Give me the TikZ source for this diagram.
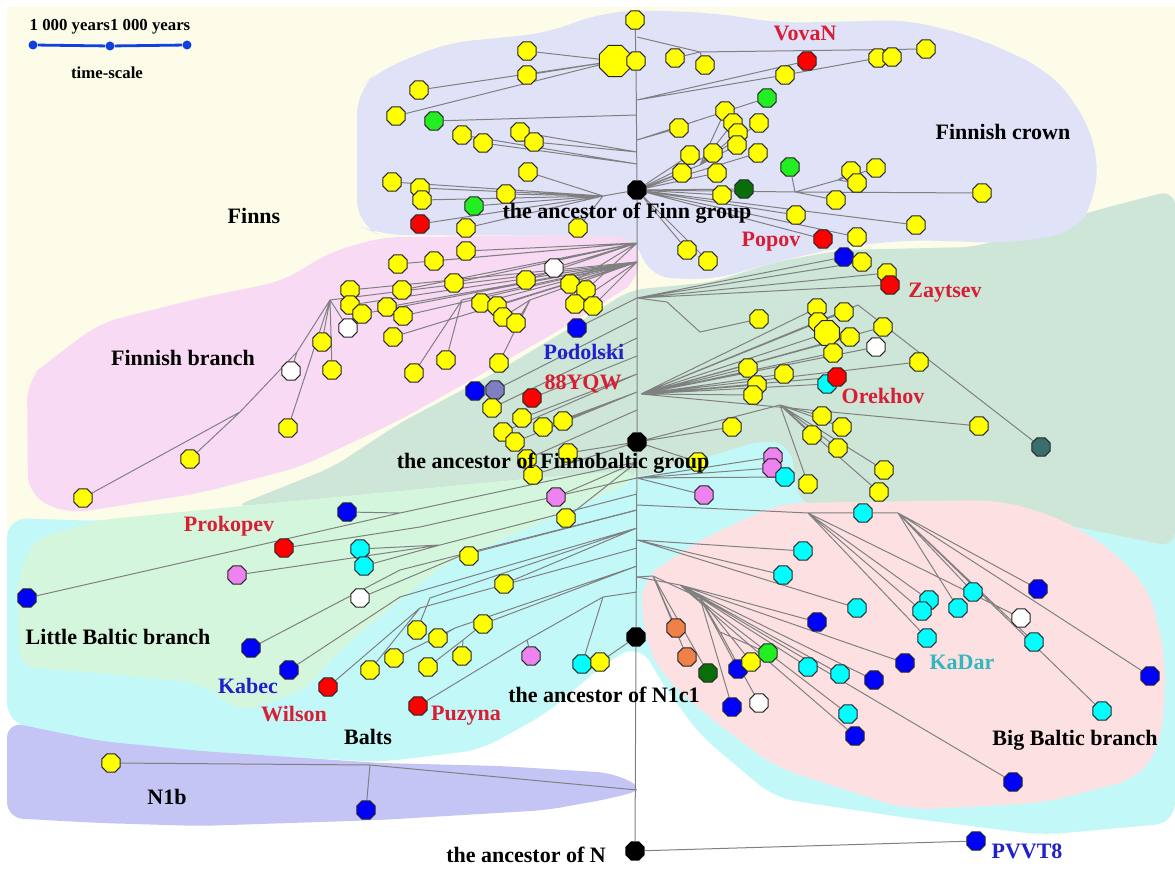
\documentclass[tikz,border=0pt]{standalone}
\usepackage{fontspec}
\setmainfont{Liberation Serif}
\usetikzlibrary{shapes.geometric,backgrounds}
\definecolor{hy}{HTML}{FFFF00}
\definecolor{hr}{HTML}{FF0000}
\definecolor{hb}{HTML}{0000FF}
\definecolor{hc}{HTML}{00FFFF}
\definecolor{hv}{HTML}{EE82EE}
\definecolor{hg}{HTML}{22EE22}
\definecolor{hdg}{HTML}{0A6E0A}
\definecolor{ho}{HTML}{F08048}
\definecolor{hs}{HTML}{7E7EC0}
\definecolor{hds}{HTML}{3A6E6E}
\definecolor{bgyellow}{HTML}{FCFCE8}
\definecolor{bglav}{HTML}{E0E2F8}
\definecolor{bgpinkf}{HTML}{F9DAF5}
\definecolor{bggreen}{HTML}{CDE6D8}
\definecolor{bglgreen}{HTML}{D4F6DC}
\definecolor{bgcyan}{HTML}{C3F8F8}
\definecolor{bgpinkb}{HTML}{FCE0E2}
\definecolor{bgpurple}{HTML}{C4C4F5}
\definecolor{txred}{HTML}{D81E34}
\definecolor{txblue}{HTML}{2020CC}
\definecolor{txcyan}{HTML}{30B8C0}
\definecolor{linkgray}{HTML}{808080}
\definecolor{scaleblue}{HTML}{1040E0}
\tikzset{
  hap/.style    ={regular polygon, regular polygon sides=8, draw=black!85,
                  line width=0.5pt, minimum size=10pt, inner sep=0pt, fill=#1},
  hapbig/.style ={hap=#1, minimum size=17pt},
  anc/.style    ={regular polygon, regular polygon sides=8, fill=black,
                  minimum size=10.5pt, inner sep=0pt},
  link/.style   ={draw=linkgray, line width=0.5pt},
  grp/.style    ={font=\fontsize{11}{12}\selectfont\bfseries, inner sep=0pt},
  sdot/.style   ={circle, fill=scaleblue, minimum size=4.5pt, inner sep=0pt},
  scaleline/.style={draw=scaleblue, line width=1.4pt},
  stxt/.style   ={font=\fontsize{8.4}{9}\selectfont\bfseries, inner sep=0pt}
}
\begin{document}
\begin{tikzpicture}[x=0.5pt,y=-0.5pt]
\useasboundingbox (0,0) rectangle (1175,871);

%% ancestors on the trunk
\node[anc] (aFinn) at (637,190) {};
\node[anc] (aFB)   at (637,442) {};
\node[anc] (aN1)   at (636,637) {};
\node[anc] (aN)    at (635,851) {};

%% Finnish crown
\node[hap=hy] (c1) at (635,20) {};
\node[hapbig=hy] (c2) at (615,61) {};
\node[hap=hy] (c3) at (636,61) {};
\node[hap=hy] (c4) at (675,58) {};
\node[hap=hy] (c5) at (705,65) {};
\node[hap=hy] (c6) at (527,51) {};
\node[hap=hy] (c7) at (527,75) {};
\node[hap=hy] (c8) at (419,90) {};
\node[hap=hy] (c9) at (396,116) {};
\node[hap=hg] (c10) at (434,121) {};
\node[hap=hy] (c11) at (462,135) {};
\node[hap=hy] (c12) at (483,143) {};
\node[hap=hy] (c13) at (520,132) {};
\node[hap=hy] (c14) at (534,142) {};
\node[hap=hy] (c15) at (392,182) {};
\node[hap=hy] (c16) at (420,188) {};
\node[hap=hy] (c17) at (422,200) {};
\node[hap=hg] (c18) at (474,206) {};
\node[hap=hr] (c19) at (420,224) {};
\node[hap=hy] (c20) at (466,228) {};
\node[hap=hy] (c21) at (506,194) {};
\node[hap=hy] (c22) at (528,172) {};
\node[hap=hy] (c23) at (578,228) {};
\node[hap=hy] (c24) at (679,128) {};
\node[hap=hy] (c25) at (690,155) {};
\node[hap=hy] (c26) at (713,153) {};
\node[hap=hy] (c27) at (682,173) {};
\node[hap=hy] (c28) at (717,173) {};
\node[hap=hy] (c29) at (722,195) {};
\node[hap=hdg] (c30) at (744,189) {};
\node[hap=hy] (c31) at (725,111) {};
\node[hap=hy] (c32) at (733,123) {};
\node[hap=hy] (c33) at (738,133) {};
\node[hap=hy] (c34) at (737,145) {};
\node[hap=hy] (c35) at (759,123) {};
\node[hap=hy] (c36) at (758,153) {};
\node[hap=hg] (c37) at (767,98) {};
\node[hap=hr] (vovan) at (807,61) {};
\node[hap=hy] (c38) at (785,75) {};
\node[hap=hy] (c39) at (878,58) {};
\node[hap=hy] (c40) at (892,57) {};
\node[hap=hy] (c41) at (926,49) {};
\node[hap=hg] (c42) at (790,167) {};
\node[hap=hy] (c43) at (851,171) {};
\node[hap=hy] (c44) at (857,183) {};
\node[hap=hy] (c45) at (876,168) {};
\node[hap=hy] (c46) at (836,200) {};
\node[hap=hy] (c47) at (982,193) {};
\node[hap=hy] (c48) at (796,215) {};
\node[hap=hr] (popov) at (823,239) {};
\node[hap=hy] (c49) at (857,237) {};
\node[hap=hy] (c50) at (916,225) {};
\node[hap=hy] (c51) at (687,250) {};
\node[hap=hy] (c52) at (708,261) {};

%% Finnish branch
\node[hap=hy] (f1) at (466,251) {};
\node[hap=hy] (f2) at (398,264) {};
\node[hap=hy] (f3) at (434,261) {};
\node[hap=hy] (f4) at (454,283) {};
\node[hap=hy] (f5) at (402,290) {};
\node[hap=hy] (f6) at (526,280) {};
\node[hap=white] (f7) at (554,268) {};
\node[hap=hy] (f8) at (570,284) {};
\node[hap=hy] (f9) at (586,290) {};
\node[hap=hy] (f10) at (387,307) {};
\node[hap=hy] (f11) at (403,316) {};
\node[hap=hy] (f12) at (481,303) {};
\node[hap=hy] (f13) at (497,306) {};
\node[hap=hy] (f14) at (503,317) {};
\node[hap=hy] (f15) at (516,323) {};
\node[hap=hy] (f16) at (575,304) {};
\node[hap=hy] (f17) at (593,306) {};
\node[hap=hy] (f18) at (393,337) {};
\node[hap=hy] (f19) at (446,360) {};
\node[hap=hy] (f20) at (414,373) {};
\node[hap=hy] (f21) at (499,363) {};
\node[hap=hy] (f22) at (350,290) {};
\node[hap=hy] (f23) at (350,305) {};
\node[hap=hy] (f24) at (362,314) {};
\node[hap=white] (f25) at (348,328) {};
\node[hap=hy] (f26) at (322,342) {};
\node[hap=hy] (f27) at (332,370) {};
\node[hap=white] (f28) at (291,371) {};
\node[hap=hy] (f29) at (288,428) {};
\node[hap=hy] (f30) at (190,459) {};
\node[hap=hy] (f31) at (83,498) {};

%% Finnobaltic group
\node[hap=hb] (podolski) at (577,328) {};
\node[hap=hb] (g1) at (475,391) {};
\node[hap=hs] (g2) at (495,390) {};
\node[hap=hy] (g3) at (492,408) {};
\node[hap=hr] (yqw) at (532,398) {};
\node[hap=hy] (g4) at (522,418) {};
\node[hap=hy] (g5) at (543,427) {};
\node[hap=hy] (g6) at (563,421) {};
\node[hap=hy] (g7) at (503,432) {};
\node[hap=hy] (g8) at (515,442) {};
\node[hap=hy] (g9) at (527,459) {};
\node[hap=hy] (g10) at (568,453) {};
\node[hap=hy] (g11) at (533,475) {};
\node[hap=hb] (g12) at (844,257) {};
\node[hap=hy] (g13) at (862,262) {};
\node[hap=hy] (g14) at (887,273) {};
\node[hap=hr] (zaytsev) at (890,285) {};
\node[hap=hy] (g15) at (759,319) {};
\node[hap=hy] (g16) at (817,308) {};
\node[hap=hy] (g17) at (844,312) {};
\node[hap=hy] (g18) at (818,322) {};
\node[hap=hy, minimum size=13.5pt] (g19) at (827,333) {};
\node[hap=hy] (g20) at (850,337) {};
\node[hap=hy] (g21) at (883,327) {};
\node[hap=white] (g22) at (876,347) {};
\node[hap=hy] (g23) at (833,353) {};
\node[hap=hy] (g24) at (919,362) {};
\node[hap=hy] (g25) at (784,374) {};
\node[hap=hy] (g26) at (748,368) {};
\node[hap=hy] (g27) at (757,385) {};
\node[hap=hy] (g28) at (753,395) {};
\node[hap=hc] (g29) at (827,384) {};
\node[hap=hr] (orekhov) at (837,377) {};
\node[hap=hy] (g30) at (822,416) {};
\node[hap=hy] (g31) at (842,427) {};
\node[hap=hy] (g32) at (812,435) {};
\node[hap=hy] (g33) at (838,448) {};
\node[hap=hy] (g34) at (979,426) {};
\node[hap=hds] (g35) at (1041,447) {};
\node[hap=hy] (g36) at (732,427) {};
\node[hap=hy] (g37) at (698,462) {};
\node[hap=hy] (g38) at (884,470) {};
\node[hap=hy] (g39) at (879,492) {};
\node[hap=hy] (g40) at (808,484) {};

%% Little Baltic branch and Balts
\node[hap=hv] (b1) at (704,495) {};
\node[hap=hv] (b2) at (773,457) {};
\node[hap=hv] (b3) at (772,468) {};
\node[hap=hc] (b4) at (785,477) {};
\node[hap=hv] (b5) at (556,497) {};
\node[hap=hy] (b6) at (566,518) {};
\node[hap=hy] (b7) at (469,556) {};
\node[hap=hb] (l1) at (347,512) {};
\node[hap=hr] (prokopev) at (284,548) {};
\node[hap=hc] (l2) at (360,549) {};
\node[hap=hc] (l3) at (364,566) {};
\node[hap=hv] (l4) at (237,575) {};
\node[hap=hb] (l5) at (27,598) {};
\node[hap=white] (l6) at (360,598) {};
\node[hap=hb] (l7) at (251,648) {};
\node[hap=hb] (kabec) at (289,670) {};
\node[hap=hr] (wilson) at (328,687) {};
\node[hap=hy] (b8) at (370,670) {};
\node[hap=hy] (b9) at (394,658) {};
\node[hap=hy] (b10) at (417,630) {};
\node[hap=hy] (b11) at (438,638) {};
\node[hap=hy] (b13) at (428,667) {};
\node[hap=hy] (b14) at (462,656) {};
\node[hap=hy] (b15) at (483,624) {};
\node[hap=hy] (b16) at (504,584) {};
\node[hap=hv] (b17) at (531,656) {};
\node[hap=hc] (b18) at (582,664) {};
\node[hap=hy] (b19) at (600,662) {};
\node[hap=hr] (puzyna) at (418,706) {};

%% Big Baltic branch
\node[hap=ho] (k1) at (676,628) {};
\node[hap=ho] (k2) at (687,657) {};
\node[hap=hdg] (k3) at (708,673) {};
\node[hap=hb] (k4) at (738,669) {};
\node[hap=hy] (k5) at (751,662) {};
\node[hap=hg] (k6) at (768,653) {};
\node[hap=hb] (k7) at (732,707) {};
\node[hap=white] (k8) at (759,703) {};
\node[hap=hc] (k9) at (863,513) {};
\node[hap=hc] (k10) at (803,551) {};
\node[hap=hc] (k11) at (783,575) {};
\node[hap=hc] (k12) at (857,608) {};
\node[hap=hc] (k13) at (929,600) {};
\node[hap=hc] (k14) at (922,611) {};
\node[hap=hc] (k15) at (958,608) {};
\node[hap=hc] (k16) at (973,592) {};
\node[hap=hb] (k17) at (1038,589) {};
\node[hap=white] (k18) at (1021,618) {};
\node[hap=hc] (k19) at (1034,642) {};
\node[hap=hb] (k20) at (817,622) {};
\node[hap=hc] (k21) at (927,638) {};
\node[hap=hb] (kadar) at (905,663) {};
\node[hap=hc] (k22) at (808,667) {};
\node[hap=hc] (k23) at (840,674) {};
\node[hap=hb] (k24) at (874,680) {};
\node[hap=hc] (k25) at (848,714) {};
\node[hap=hb] (k26) at (855,736) {};
\node[hap=hb] (k27) at (1150,676) {};
\node[hap=hc] (k28) at (1102,711) {};
\node[hap=hb] (k29) at (1013,782) {};
\node[hap=hb] (pvvt8) at (976,841) {};

%% N1b
\node[hap=hy] (n1) at (111,763) {};
\node[hap=hb] (n2) at (366,810) {};

%% time-scale
\node[sdot] (s1) at (33,45) {};
\node[sdot] (s2) at (110,46) {};
\node[sdot] (s3) at (187,45) {};
\node[stxt] (sY) at (110,27) {1 000 years1 000 years};
\node[stxt] (sT) at (107,73) {time-scale};

%% branch points
\coordinate (tA) at (637,37);   \coordinate (jA) at (700,52);
\coordinate (tB) at (637,100);  \coordinate (tC) at (637,115);
\coordinate (tD) at (637,140);  \coordinate (tE) at (637,152);
\coordinate (tF) at (637,164);  \coordinate (jF) at (603,196);
\coordinate (jC) at (700,165);  \coordinate (jR1) at (795,192);
\coordinate (jR2) at (838,180);
\coordinate (tP) at (637,243);  \coordinate (tQ) at (637,262);
\coordinate (jP1) at (240,412); \coordinate (jP2) at (297,352);
\coordinate (jP3) at (330,300); \coordinate (jP4) at (462,300);
\coordinate (jP5) at (530,300);
\coordinate (tG1) at (637,298); \coordinate (tG2) at (637,318);
\coordinate (tG3) at (637,338); \coordinate (tG4) at (637,356);
\coordinate (tG5) at (637,374); \coordinate (tG6) at (637,392);
\coordinate (tG7) at (637,410);
\coordinate (jG1) at (667,302); \coordinate (jG2) at (700,332);
\coordinate (jG3) at (641,394); \coordinate (jG4) at (780,405);
\coordinate (jK) at (858,305);
\coordinate (tB1) at (637,462); \coordinate (tB2) at (637,478);
\coordinate (tB3) at (637,494); \coordinate (tB4) at (637,510);
\coordinate (tB5) at (637,528); \coordinate (tB6) at (637,548);
\coordinate (tB7) at (637,566); \coordinate (tB8) at (637,592);
\coordinate (jL1) at (400,513); \coordinate (jL2) at (420,527);
\coordinate (jL3) at (440,545); \coordinate (jL4) at (460,556);
\coordinate (jL5) at (400,570); \coordinate (jL6) at (400,597);
\coordinate (jL7) at (420,608); \coordinate (jL9) at (455,628);
\coordinate (jL10) at (430,598); \coordinate (jL11) at (463,640);
\coordinate (jL12) at (527,640); \coordinate (jL13) at (603,597);
\coordinate (tK0) at (637,505); \coordinate (tK1) at (637,577);
\coordinate (tK2) at (637,540);
\coordinate (jK1) at (653,576); \coordinate (jK2) at (700,598);
\coordinate (jK3) at (720,632); \coordinate (jK4) at (680,585);
\coordinate (jK6) at (808,513); \coordinate (jK7) at (898,513);
\coordinate (tN) at (637,790);  \coordinate (jN) at (370,765);

\begin{scope}[on background layer]
%% coloured areas
\fill[white] (0,0) rectangle (1175,871);
\fill[bgyellow] (7,7) rectangle (1175,600);
\fill[bgcyan, rounded corners=10pt] (7,518) -- (100,521) -- (233,510)
  -- (380,496) -- (547,480) -- (640,474) -- (763,440) -- (800,443)
  -- (1175,505) -- (1175,823) -- (1042,835) -- (908,818) -- (775,798)
  -- (700,735) -- (660,680) -- (641,645) -- (613,657) -- (547,713)
  -- (480,750) -- (380,762) -- (200,752) -- (100,742) -- (7,723) -- cycle;
\fill[bgpurple, rounded corners=8pt] (7,722) -- (100,741) -- (200,751)
  -- (380,763) -- (500,766) -- (613,773) -- (645,789) -- (613,798)
  -- (547,810) -- (380,820) -- (200,826) -- (100,823) -- (7,818) -- cycle;
\fill[bggreen, rounded corners=8pt] (233,507) -- (333,467) -- (400,423)
  -- (500,370) -- (580,322) -- (630,290) -- (713,282) -- (775,262)
  -- (842,250) -- (975,247) -- (1108,207) -- (1175,190) -- (1175,547)
  -- (1042,520) -- (800,505) -- (790,445) -- (763,440) -- (640,477)
  -- (547,477) -- (380,493) -- cycle;
\fill[bgpinkb, rounded corners=12pt] (640,580) -- (700,540) -- (780,503)
  -- (1000,500) -- (1060,518) -- (1110,548) -- (1150,590) -- (1166,660)
  -- (1162,740) -- (1140,778) -- (1042,803) -- (908,810) -- (775,767)
  -- (713,720) -- (663,677) -- (645,640) -- cycle;
\fill[bglgreen, rounded corners=8pt] (17,580) -- (33,540) -- (100,520)
  -- (233,507) -- (380,493) -- (547,477) -- (637,470) -- (637,480)
  -- (547,520) -- (447,563) -- (400,600) -- (340,650) -- (305,690)
  -- (240,712) -- (232,705) -- (200,683) -- (100,673) -- (20,667) -- cycle;
\fill[bgpinkf, rounded corners=10pt] (330,252) -- (383,237) -- (637,235)
  -- (640,280) -- (620,292) -- (560,330) -- (480,375) -- (400,420)
  -- (300,467) -- (200,493) -- (67,514) -- (28,495) -- (27,380)
  -- (40,368) -- (100,323) -- (200,298) -- (283,281) -- cycle;
\fill[bglav, rounded corners=12pt] (357,90) -- (380,70) -- (447,43)
  -- (547,33) -- (597,14) -- (640,10) -- (713,13) -- (780,23) -- (908,20)
  -- (975,37) -- (1042,67) -- (1075,100) -- (1098,150) -- (1095,200)
  -- (1075,233) -- (1008,243) -- (908,240) -- (842,247) -- (775,262)
  -- (713,280) -- (647,277) -- (637,236) -- (380,235) -- (357,225) -- cycle;

\draw[scaleline] (s1) -- (s2) -- (s3);

%% trunk
\draw[link] (c1) -- (c3) -- (aFinn) -- (aFB) -- (aN1) -- (aN);

%% Finnish crown links
\draw[link] (tA) -- (jA) -- (c41) (c4) -- (jA) (c5) -- (jA);
\draw[link] (c6) -- (c2) (c7) -- (c2) (c8) -- (c2) (c9) -- (c2) (c2) -- (c3);
\draw[link] (tB) -- (c38) -- (c39) -- (c40) (vovan) -- (tB);
\draw[link] (c10) -- (tC) (c37) -- (tD) (c24) -- (tD);
\draw[link] (c13) -- (tE) (c14) -- (tE) (c11) -- (tF) (c12) -- (tF);
\draw[link] (jF) -- (aFinn) (jF) -- (c15) (jF) -- (c16) (jF) -- (c17)
  (jF) -- (c18) (jF) -- (c19) (jF) -- (c20) (jF) -- (c21) (jF) -- (c22)
  (jF) -- (c23);
\draw[link] (jC) -- (aFinn) (jC) -- (c31) (jC) -- (c32) (jC) -- (c33)
  (jC) -- (c34) (jC) -- (c35);
\draw[link] (aFinn) -- (c25) (aFinn) -- (c26) (aFinn) -- (c27)
  (aFinn) -- (c28) (aFinn) -- (c29) (aFinn) -- (c30) (aFinn) -- (c36);
\draw[link] (jR1) -- (aFinn) (jR1) -- (c42) (jR1) -- (c46) (jR1) -- (c47)
  (jR1) -- (jR2) (jR2) -- (c43) (jR2) -- (c44) (jR2) -- (c45);
\draw[link] (aFinn) -- (c48) (aFinn) -- (popov) (aFinn) -- (c49)
  (aFinn) -- (c50) (aFinn) -- (c51) (aFinn) -- (c52);

%% Finnish branch links
\draw[link] (f31) -- (jP1) -- (jP2) -- (jP3) -- (tQ) (f30) -- (jP1)
  (f28) -- (jP2) (f29) -- (jP3) (f27) -- (jP3) (f26) -- (jP3) (f25) -- (jP3);
\draw[link] (f22) -- (tQ) (f23) -- (tQ) (f24) -- (tQ) (f10) -- (tQ)
  (f11) -- (tQ) (f18) -- (tQ);
\draw[link] (f1) -- (tP) (f2) -- (tP) (f3) -- (tP) (f5) -- (tP) (f4) -- (tP)
  (f6) -- (tP) (f7) -- (tP) (f8) -- (tP) (f9) -- (tP);
\draw[link] (f19) -- (jP4) (f20) -- (jP4) (jP4) -- (tQ) (f12) -- (tQ)
  (f13) -- (tQ) (f21) -- (jP5) (jP5) -- (tQ) (f14) -- (jP5) (f15) -- (jP5)
  (f16) -- (tQ) (f17) -- (tQ);

%% Finnobaltic links
\draw[link] (podolski) -- (tG1) (g1) -- (g2) -- (tG2) (g3) -- (tG3)
  (yqw) -- (tG4) (g4) -- (tG5) (g7) -- (tG5) (g5) -- (tG6) (g6) -- (tG6)
  (g8) -- (tG6) (g9) -- (tG7) (g10) -- (aFB) (g11) -- (aFB);
\draw[link] (g12) -- (tG1) (g13) -- (tG1) (g14) -- (tG1) (zaytsev) -- (tG1)
  (tG1) -- (jG1) -- (jG2) -- (g15);
\draw[link] (jG3) -- (g16) (jG3) -- (g17) (jG3) -- (g18)
  (jG3) -- (g19) (jG3) -- (g20) (jG3) -- (g21) (jG3) -- (g22) (jG3) -- (g23)
  (jG3) -- (g25) (jG3) -- (g26) (jG3) -- (g27) (jG3) -- (g28)
  (jG3) -- (g29) (jG3) -- (orekhov) (jG3) -- (g24) (jG3) -- (g34)
  (jG3) -- (jK) -- (g35);
\draw[link] (aFB) -- (jG4) (jG4) -- (g30) (jG4) -- (g31) (jG4) -- (g32)
  (jG4) -- (g33) (jG4) -- (g38) (jG4) -- (g39) (jG4) -- (g40)
  (aFB) -- (g36) (aFB) -- (g37);

%% Balts links
\draw[link] (b1) -- (tB2) (b2) -- (tB2) (b3) -- (tB2) (b4) -- (tB2)
  (b5) -- (tB1) (b6) -- (tB1);
\draw[link] (l5) -- (jL1) -- (tB1) (l1) -- (jL1)
  (prokopev) -- (jL2) -- (tB2) (l4) -- (jL3) -- (tB3) (l2) -- (jL3)
  (l3) -- (jL3) (l6) -- (jL4) -- (tB4) (b7) -- (jL4);
\draw[link] (l7) -- (jL5) -- (tB4) (kabec) -- (jL6) -- (tB5)
  (wilson) -- (jL7) -- (tB6) (b8) -- (jL7) (b10) -- (jL10) -- (tB5)
  (b9) -- (jL9) -- (tB7) (b11) -- (jL9) (b13) -- (jL11) (b14) -- (jL11)
  (jL11) -- (b15) -- (tB7) (b16) -- (tB5);
\draw[link] (puzyna) -- (jL12) -- (jL13) -- (tB8) (b17) -- (jL12)
  (b18) -- (jL13) (b19) -- (aN1);

%% Big Baltic links
\draw[link] (tK0) -- (jK6) -- (k9) -- (jK7) (jK7) -- (k17) (jK7) -- (k27)
  (jK7) -- (k28) (jK7) -- (k16) (jK7) -- (k19) (jK7) -- (k15)
  (jK6) -- (k13) (jK6) -- (k14) (jK6) -- (k21) (jK6) -- (k18);
\draw[link] (k10) -- (tK2) (k11) -- (tK2) (k12) -- (tK2);
\draw[link] (tK1) -- (jK1) (jK1) -- (k1) (jK1) -- (k2) (jK1) -- (k3)
  (jK1) -- (jK2) (jK2) -- (k4) (jK2) -- (k5) (jK2) -- (k7)
  (jK2) -- (jK3) (jK3) -- (k6) (jK3) -- (k8);
\draw[link] (tK1) -- (jK4) (jK4) -- (k20) (jK4) -- (k22) (jK4) -- (k23)
  (jK4) -- (k24) (jK4) -- (k25) (jK4) -- (k26) (jK4) -- (kadar)
  (jK4) -- (k29);

%% N and N1b
\draw[link] (aN) -- (pvvt8);
\draw[link] (tN) -- (jN) -- (n1) (jN) -- (n2);
\end{scope}

%% labels
\node[grp, text=txred] (lVovaN) at (805,33) {VovaN};
\node[grp] (lCrown) at (1003,132) {Finnish crown};
\node[grp] (lFinns) at (254,216) {Finns};
\node[grp] (lAFinn) at (627,213) {the ancestor of Finn group};
\node[grp, text=txred] (lPopov) at (771,242) {Popov};
\node[grp, text=txred] (lZaytsev) at (945,293) {Zaytsev};
\node[grp] (lFBranch) at (183,358) {Finnish branch};
\node[grp, text=txblue] (lPodolski) at (584,352) {Podolski};
\node[grp, text=txred] (lYQW) at (583,384) {88YQW};
\node[grp, text=txred] (lOrekhov) at (883,396) {Orekhov};
\node[grp] (lAFB) at (553,463) {the ancestor of Finnobaltic group};
\node[grp, text=txred] (lProkopev) at (229,526) {Prokopev};
\node[grp] (lLittle) at (118,637) {Little Baltic branch};
\node[grp, text=txblue] (lKabec) at (248,686) {Kabec};
\node[grp, text=txred] (lWilson) at (294,714) {Wilson};
\node[grp] (lBalts) at (368,737) {Balts};
\node[grp, text=txred] (lPuzyna) at (466,716) {Puzyna};
\node[grp] (lAN1) at (604,695) {the ancestor of N1c1};
\node[grp, text=txcyan] (lKaDar) at (962,662) {KaDar};
\node[grp] (lBig) at (1075,740) {Big Baltic branch};
\node[grp] (lN1b) at (167,797) {N1b};
\node[grp] (lAN) at (526,855) {the ancestor of N};
\node[grp, text=txblue] (lPVVT8) at (1027,851) {PVVT8};
\end{tikzpicture}
\end{document}
